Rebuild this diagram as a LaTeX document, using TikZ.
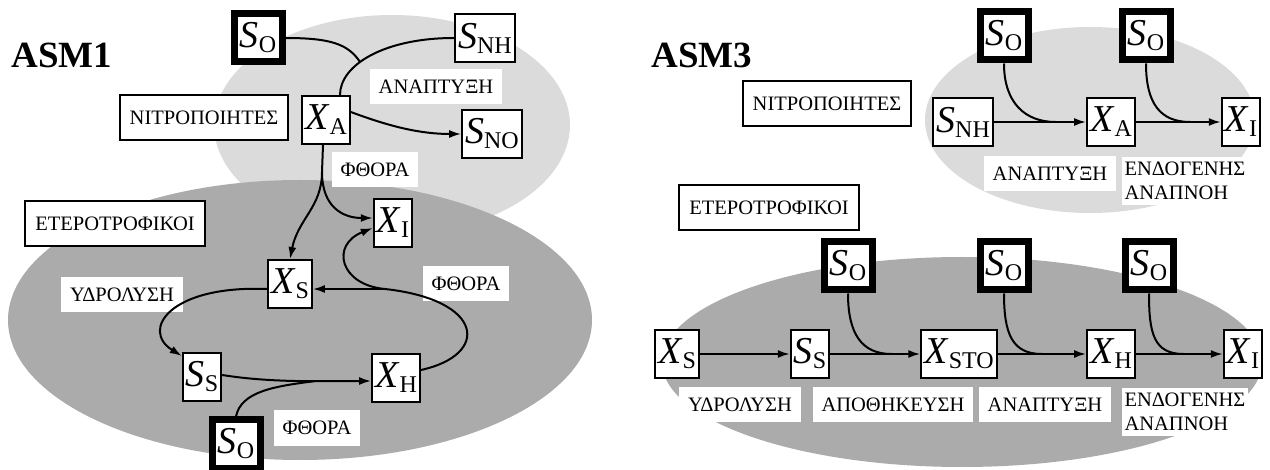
\documentclass[tikz,border=0pt]{standalone}
\usepackage{fontspec}
\setmainfont{Liberation Serif}
\usetikzlibrary{arrows.meta}
\newcommand{\conc}[2]{\textit{#1}\raisebox{-5pt}{\fontsize{24}{24}\selectfont #2}}
\newcommand{\lblfont}{\fontsize{20.5}{24}\selectfont}

\tikzset{
	var/.style={draw, line width=2pt, fill=white, minimum height=48pt, inner xsep=3pt, inner ysep=0pt, font=\fontsize{38}{38}\selectfont},
	oxy/.style={var, line width=7pt, minimum width=48pt},
	group/.style={draw, line width=2pt, fill=white, minimum height=45pt, inner xsep=10pt, font=\lblfont},
	proc/.style={fill=white, font=\lblfont, inner xsep=9pt, inner ysep=11pt, text height=13pt, text depth=0pt},
	proctwo/.style={fill=white, font=\lblfont, inner xsep=3pt, inner ysep=5pt, align=left},
	title/.style={font=\fontsize{37}{37}\selectfont\bfseries},
	flow/.style={line width=2pt, -{Latex[length=12pt,width=8pt]}},
	link/.style={line width=2pt},
}

\begin{document}
\begin{tikzpicture}[x=1pt,y=-1pt]
			%%%%% START %%%%%
			\useasboundingbox (0,0) rectangle (1270,470);
			
			% ASM1
			\fill[black!14] (392,125) ellipse [x radius=178pt, y radius=110pt];
			\fill[black!33] (300,320) ellipse [x radius=292pt, y radius=140pt];
			
			\node[title] (asm1) at (62,55) {ASM1};
			\node[group] (nitro1) at (204,118) {ΝΙΤΡΟΠΟΙΗΤΕΣ};
			\node[group] (hetero1) at (115,224) {ΕΤΕΡΟΤΡΟΦΙΚΟΙ};
			
			\node[oxy] (so1) at (258,38) {\conc{S}{O}};
			\node[var] (snh1) at (485,38) {\conc{S}{NH}};
			\node[var] (xa1) at (326,120) {\conc{X}{A}};
			\node[var] (sno1) at (492,134) {\conc{S}{NO}};
			\node[var] (xi1) at (393,223) {\conc{X}{I}};
			\node[var] (xs1) at (290,284) {\conc{X}{S}};
			\node[var] (ss1) at (202,377) {\conc{S}{S}};
			\node[var] (xh1) at (396,378) {\conc{X}{H}};
			\node[oxy] (so2) at (236,444) {\conc{S}{O}};
			
			\node[proc] (grow1) at (436,87) {ΑΝΑΠΤΥΞΗ};
			\node[proc] (decayA) at (375,170) {ΦΘΟΡΑ};
			\node[proc] (hydro1) at (122,295) {ΥΔΡΟΛΥΣΗ};
			\node[proc] (decayH) at (466,284) {ΦΘΟΡΑ};
			\node[proc] (decayB) at (317,428) {ΦΘΟΡΑ};
			
			\draw[link] (snh1.west) .. controls +(-70,0) and +(0,-30) .. ([xshift=14pt]xa1.north) coordinate[pos=0.6] (m1);
			\draw[link] (so1.east) .. controls +(45,0) and +(-12,-18) .. (m1);
			\draw[flow] ([yshift=8pt]xa1.east) .. controls +(40,15) and +(-40,0) .. (sno1.west);
			
			\coordinate (j1) at (322,172);
			\draw[link] ([xshift=-3pt]xa1.south) -- (j1);
			\draw[flow] (j1) .. controls +(0,35) and +(8,-40) .. (xs1.north);
			\draw[flow] (j1) .. controls +(0,35) and +(-30,0) .. ([yshift=5pt]xi1.west);
			
			\coordinate (j2) at (385,289);
			\draw[link] ([yshift=8pt]xh1.east) .. controls (490,355) and (485,300) .. (j2);
			\draw[flow] (j2) -- ([yshift=-5pt]xs1.east);
			\draw[flow] (j2) .. controls (340,285) and (330,245) .. ([yshift=-5pt]xi1.west);
			
			\draw[flow] ([yshift=-5pt]xs1.west) .. controls (170,285) and (140,330) .. ([yshift=-4pt]ss1.north west);
			\draw[flow] ([yshift=2pt]ss1.east) .. controls +(50,8) and +(-50,0) .. ([yshift=-3pt]xh1.west) coordinate[pos=0.62] (m2);
			\draw[link] (so2.north) .. controls +(5,-25) and +(-40,5) .. (m2);
			
			% ASM3
			\fill[black!14] (1090,120) ellipse [x radius=165pt, y radius=93pt];
			\fill[black!33] (962,362) ellipse [x radius=300pt, y radius=105pt];
			
			\node[title] (asm3) at (702,55) {ASM3};
			\node[group] (nitro3) at (827,104) {ΝΙΤΡΟΠΟΙΗΤΕΣ};
			\node[group] (hetero3) at (769,208) {ΕΤΕΡΟΤΡΟΦΙΚΟΙ};
			
			\node[var] (snh3) at (963,122) {\conc{S}{NH}};
			\node[var] (xa3) at (1111,122) {\conc{X}{A}};
			\node[var] (xi3) at (1241,122) {\conc{X}{I}};
			\node[oxy] (so3) at (1004,36) {\conc{S}{O}};
			\node[oxy] (so4) at (1146,36) {\conc{S}{O}};
			\node[proc] (grow3) at (1050,174) {ΑΝΑΠΤΥΞΗ};
			\node[proctwo] (resp3) at (1185,181) {ΕΝΔΟΓΕΝΗΣ\\ΑΝΑΠΝΟΗ};
			
			\node[var] (xs3) at (677,354) {\conc{X}{S}};
			\node[var] (ss3) at (810,354) {\conc{S}{S}};
			\node[var] (xsto3) at (959,354) {\conc{X}{STO}};
			\node[var] (xh3) at (1111,354) {\conc{X}{H}};
			\node[var] (xi4) at (1243,354) {\conc{X}{I}};
			\node[oxy] (so5) at (848,266) {\conc{S}{O}};
			\node[oxy] (so6) at (1004,266) {\conc{S}{O}};
			\node[oxy] (so7) at (1149,266) {\conc{S}{O}};
			\node[proc] (hydro3) at (740,405) {ΥΔΡΟΛΥΣΗ};
			\node[proc] (store3) at (893,405) {ΑΠΟΘΗΚΕΥΣΗ};
			\node[proc] (grow4) at (1045,405) {ΑΝΑΠΤΥΞΗ};
			\node[proctwo] (resp4) at (1185,412) {ΕΝΔΟΓΕΝΗΣ\\ΑΝΑΠΝΟΗ};
			
			\draw[flow] (snh3) -- (xa3) coordinate[pos=0.67] (m3);
			\draw[link] (so3.south) .. controls +(0,40) and +(-30,0) .. (m3);
			\draw[flow] (xa3) -- (xi3) coordinate[pos=0.64] (m4);
			\draw[link] (so4.south) .. controls +(0,40) and +(-30,0) .. (m4);
			
			\draw[flow] (xs3) -- (ss3);
			\draw[flow] (ss3) -- (xsto3) coordinate[pos=0.68] (m5);
			\draw[link] (so5.south) .. controls +(0,40) and +(-30,0) .. (m5);
			\draw[flow] (xsto3) -- (xh3) coordinate[pos=0.5] (m6);
			\draw[link] (so6.south) .. controls +(0,40) and +(-30,0) .. (m6);
			\draw[flow] (xh3) -- (xi4) coordinate[pos=0.55] (m7);
			\draw[link] (so7.south) .. controls +(0,40) and +(-30,0) .. (m7);
			%%%%% END %%%%%
\end{tikzpicture}
\end{document}
